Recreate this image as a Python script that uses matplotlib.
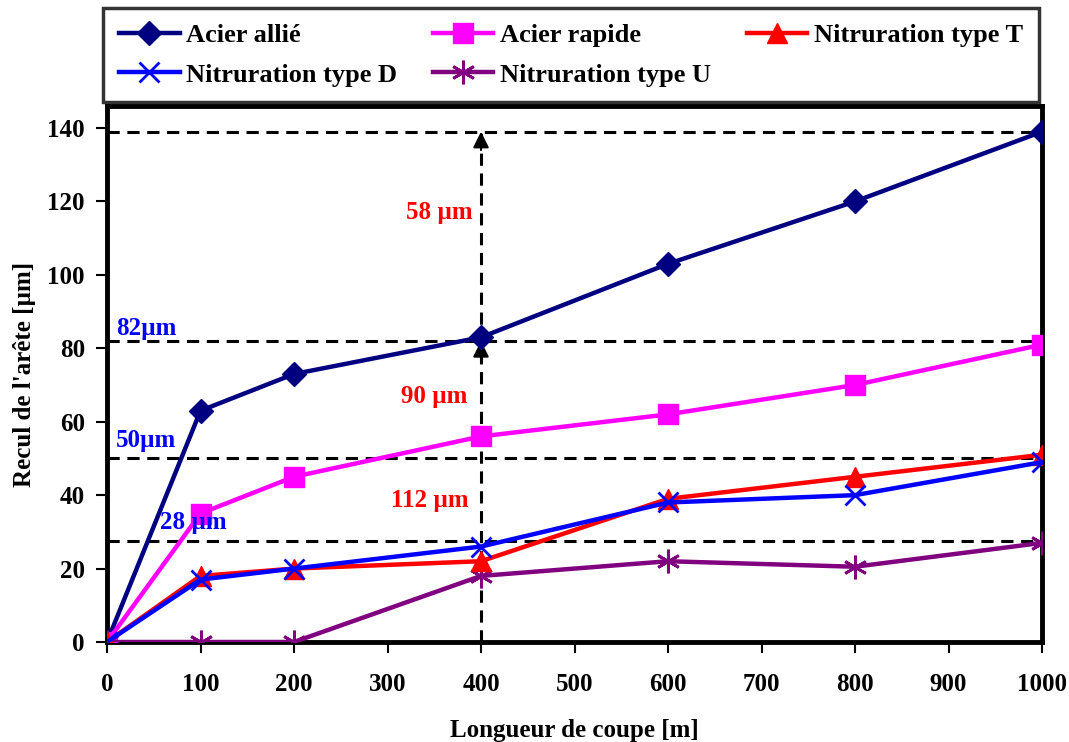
#!/usr/bin/env python3

import matplotlib
matplotlib.use("Agg")
import matplotlib.pyplot as plt

# data
longueur = [0, 100, 200, 400, 600, 800, 1000]
acier_allie = [0, 63, 73, 83, 103, 120, 139]
acier_rapide = [0, 35, 45, 56, 62, 70, 81]
nitr_t = [0, 18, 20, 22, 39, 45, 51]
nitr_d = [0, 17, 20, 26, 38, 40, 49]
nitr_u = [0, 0, 0, 18, 22, 20.5, 27]

ref_levels = [139, 82, 50, 27.5]
ref_x = 400

x_ticks = list(range(0, 1001, 100))
y_ticks = list(range(0, 141, 20))


def main() -> None:
    plt.rcParams["font.family"] = ["Liberation Serif", "DejaVu Serif"]
    plt.rcParams["font.weight"] = "bold"
    plt.rcParams["font.size"] = 18

    fig = plt.figure(figsize=(10.69, 7.42), dpi=100)
    ax = fig.add_axes([107 / 1069, 100 / 742, (1042 - 107) / 1069, (642 - 106) / 742])

    # reference dashed lines
    for lvl in ref_levels:
        ax.plot([0, 1000], [lvl, lvl], color="black", lw=2.2, ls=(0, (4, 2.5)), zorder=1)
    ax.plot([ref_x, ref_x], [0, ref_levels[0]], color="black", lw=2.2, ls=(0, (4, 2.5)), zorder=1)
    for top in (ref_levels[0], ref_levels[1]):
        ax.annotate("", xy=(ref_x, top), xytext=(ref_x, top - 5),
                    arrowprops=dict(arrowstyle="-|>", color="black", lw=1.5, mutation_scale=24,
                                    shrinkA=0, shrinkB=0),
                    zorder=2)

    lw = 3.2
    h1, = ax.plot(longueur, acier_allie, color="#000080", lw=lw, marker="D", ms=12,
                  label="Acier allié", zorder=3)
    h2, = ax.plot(longueur, acier_rapide, color="#FF00FF", lw=lw, marker="s", ms=14,
                  label="Acier rapide", zorder=3)
    h3, = ax.plot(longueur, nitr_t, color="#FF0000", lw=lw, marker="^", ms=14,
                  label="Nitruration type T", zorder=4)
    h4, = ax.plot(longueur, nitr_d, color="#0000FF", lw=lw, marker="x", ms=14, mew=2,
                  label="Nitruration type D", zorder=5)
    h5, = ax.plot(longueur, nitr_u, color="#800080", lw=lw, marker=(6, 2, 0), ms=17, mew=2,
                  label="Nitruration type U", zorder=3)

    # annotations
    ax.text(355, 117, "58 µm", color="red", ha="center", va="center", fontweight="bold")
    ax.text(350, 67, "90 µm", color="red", ha="center", va="center", fontweight="bold")
    ax.text(345, 38.5, "112 µm", color="red", ha="center", va="center", fontweight="bold")
    ax.text(10, 85.5, "82µm", color="blue", ha="left", va="center", fontweight="bold")
    ax.text(10, 55, "50µm", color="blue", ha="left", va="center", fontweight="bold")
    ax.text(57, 32.5, "28 µm", color="blue", ha="left", va="center", fontweight="bold")

    ax.set_xlim(0, 1000)
    ax.set_ylim(0, 146)
    ax.set_xticks(x_ticks)
    ax.set_yticks(y_ticks)
    ax.tick_params(axis="x", direction="out", length=8, width=1.5, pad=14)
    ax.tick_params(axis="y", direction="out", length=8, width=1.5, pad=8)
    for s in ax.spines.values():
        s.set_linewidth(3.5)
        s.set_color("black")

    ax.set_xlabel("Longueur de coupe [m]", fontweight="bold", labelpad=17)
    ax.set_ylabel("Recul de l'arête [µm]", fontweight="bold", labelpad=8)

    leg = fig.legend(handles=[h1, h4, h2, h5, h3], ncol=3, loc="upper left",
                     bbox_to_anchor=(103 / 1069, 1 - 8 / 742),
                     borderaxespad=0, frameon=True, fancybox=False,
                     edgecolor="black", handlelength=2.3, handletextpad=0.25,
                     columnspacing=1.35, labelspacing=0.6, borderpad=0.6, fontsize=19)
    leg.get_frame().set_linewidth(2.5)

    fig.savefig("out.png", dpi=100)


if __name__ == "__main__":
    main()
